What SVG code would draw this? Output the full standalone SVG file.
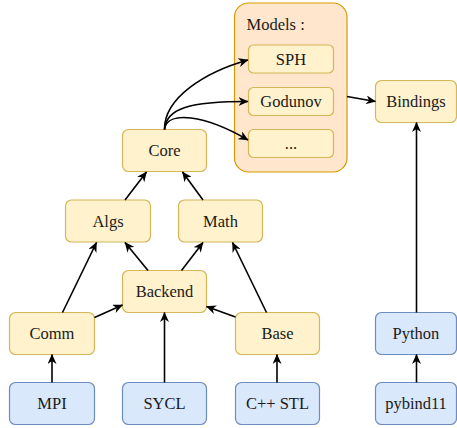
<svg xmlns="http://www.w3.org/2000/svg" width="457" height="428" viewBox="0 0 457 428">
<defs>
<style>
.y{fill:#fff2cc;stroke:#d6b656;stroke-width:1.2}
.b{fill:#dae8fc;stroke:#6c8ebf;stroke-width:1.2}
.o{fill:#ffe6cc;stroke:#d79b00;stroke-width:1.2}
.e{fill:none;stroke:#000;stroke-width:1.6;marker-end:url(#ah)}
</style>
<marker id="ah" viewBox="0 0 10 9" refX="9.5" refY="4.5" markerWidth="10" markerHeight="9" markerUnits="userSpaceOnUse" orient="auto">
<path d="M0,0 L10,4.5 L0,9 L3,4.5 z" fill="#000"/>
</marker>
</defs>
<rect width="457" height="428" fill="#fff"/>
<g font-family="Liberation Serif, Times New Roman, serif" font-size="16.5" fill="#1a1a1a" text-anchor="middle">
<g id="models">
<rect class="o" x="234.5" y="3" width="112.5" height="169" rx="14"/>
<text x="246.5" y="29.5" text-anchor="start">Models :</text>
</g>
<g id="sph"><rect class="y" x="248.5" y="45" width="85" height="28" rx="5"/><text x="291" y="64.5">SPH</text></g>
<g id="godunov"><rect class="y" x="248.5" y="87.5" width="85" height="28" rx="5"/><text x="291" y="107">Godunov</text></g>
<g id="etc"><rect class="y" x="248.5" y="129.5" width="85" height="28" rx="5"/><text x="291" y="149">...</text></g>
<g id="bindings"><rect class="y" x="375.5" y="80.5" width="81" height="42" rx="6"/><text x="416" y="107">Bindings</text></g>
<g id="core"><rect class="y" x="122.5" y="129.5" width="84" height="42" rx="6"/><text x="164.5" y="156">Core</text></g>
<g id="algs"><rect class="y" x="65.5" y="200" width="85" height="42" rx="6"/><text x="108" y="226.5">Algs</text></g>
<g id="math"><rect class="y" x="178.5" y="200" width="84" height="42" rx="6"/><text x="220.5" y="226.5">Math</text></g>
<g id="backend"><rect class="y" x="122.5" y="270.5" width="84" height="42" rx="6"/><text x="164.5" y="297">Backend</text></g>
<g id="comm"><rect class="y" x="9.5" y="312.5" width="85" height="42" rx="6"/><text x="52" y="339">Comm</text></g>
<g id="base"><rect class="y" x="235.5" y="312.5" width="84" height="42" rx="6"/><text x="277.5" y="339">Base</text></g>
<g id="python"><rect class="b" x="375.5" y="312.5" width="81" height="42" rx="6"/><text x="416" y="339">Python</text></g>
<g id="mpi"><rect class="b" x="9.5" y="382.5" width="85" height="42" rx="6"/><text x="52" y="409">MPI</text></g>
<g id="sycl"><rect class="b" x="122.5" y="382.5" width="84" height="42" rx="6"/><text x="164.5" y="409">SYCL</text></g>
<g id="cppstl"><rect class="b" x="235.5" y="382.5" width="84" height="42" rx="6"/><text x="277.5" y="409">C++ STL</text></g>
<g id="pybind11"><rect class="b" x="375.5" y="382.5" width="81" height="42" rx="6"/><text x="416" y="409">pybind11</text></g>
</g>
<g id="connectors">
<path class="e" d="M164.5,129.5 C164,98 205,72 248,60"/>
<path class="e" d="M164.5,129.5 C166,108 190,101.5 248,101.5"/>
<path class="e" d="M164.5,129.5 C167,110 205,115 248,140"/>
<path class="e" d="M347,96.5 L375.5,101.5"/>
<path class="e" d="M125,200 L146.5,172"/>
<path class="e" d="M203,200 L182.5,172"/>
<path class="e" d="M148,270.5 L125,242.5"/>
<path class="e" d="M181.5,270.5 L203,242.5"/>
<path class="e" d="M62.5,312.5 L96.5,242.5"/>
<path class="e" d="M266.5,312.5 L232.5,242.5"/>
<path class="e" d="M94.5,317.5 L122.5,305"/>
<path class="e" d="M235.5,317 L206.5,306.5"/>
<path class="e" d="M164.5,382.5 L164.5,312.5"/>
<path class="e" d="M52,382.5 L52,354.5"/>
<path class="e" d="M277,382.5 L277,354.5"/>
<path class="e" d="M416.5,382.5 L416.5,354.5"/>
<path class="e" d="M416.5,312.5 L416.5,122.5"/>
</g>
</svg>
